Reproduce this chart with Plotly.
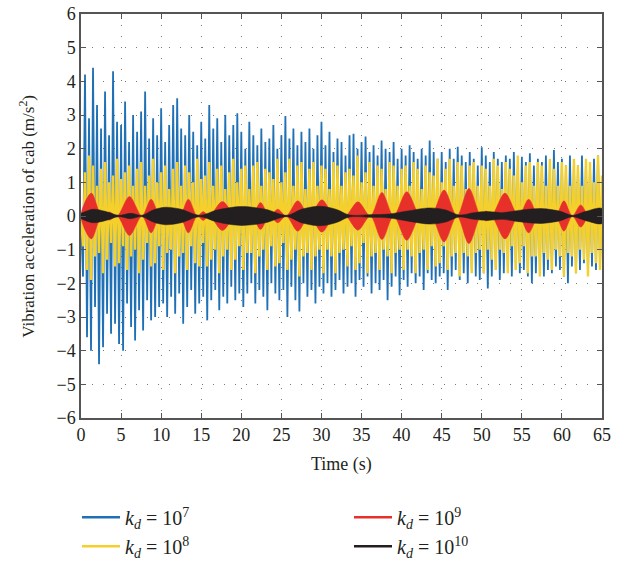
import numpy as np
import plotly.graph_objects as go

# sample interval of the digitised blue / yellow traces (s)
dt = 0.25

# k_d = 1e7 : peak values, one per half cycle
acc_1e7 = [
    0.0, -1.8, 4.2, -3.6, 2.9, -4.0, 4.4, -2.7, 3.3, -4.4, 2.6, -3.9, 3.7, -2.9, 2.4, -3.5, 4.3, -3.2, 2.8, -3.8,
    2.7, -4.0, 3.4, -2.6, 2.2, -3.3, 3.0, -3.7, 2.5, -2.8, 3.1, -3.4, 3.7, -2.5, 2.3, -3.1, 2.9, -3.0, 2.4, -2.7,
    3.2, -2.6, 2.2, -3.0, 2.7, -2.4, 3.3, -2.9, 3.5, -2.3, 2.6, -3.2, 2.4, -2.7, 3.0, -2.2, 2.5, -2.9, 2.1, -2.6,
    2.8, -2.4, 2.3, -3.1, 3.3, -2.5, 2.6, -2.2, 2.9, -2.8, 2.2, -2.4, 3.0, -2.6, 2.4, -2.1, 2.7, -2.5, 3.05, -2.3,
    2.5, -2.7, 2.0, -2.3, 2.8, -2.0, 2.4, -2.6, 2.1, -2.2, 2.6, -2.4, 2.2, -2.8, 2.3, -2.0, 2.7, -2.3, 2.0, -2.5,
    2.4, -2.2, 2.97, -3.0, 2.3, -2.1, 2.6, -2.5, 2.1, -2.84, 2.5, -2.0, 2.2, -2.4, 2.6, -2.2, 2.0, -2.6, 2.4, -2.1,
    2.8, -2.3, 2.1, -2.0, 2.5, -2.4, 1.9, -2.2, 2.3, -1.9, 2.2, -2.3, 1.8, -2.1, 2.4, -2.0, 2.44, -2.4, 2.0, -1.9,
    2.2, -2.1, 2.36, -1.8, 1.9, -2.3, 2.1, -2.0, 1.8, -2.2, 2.24, -1.9, 2.0, -2.5, 1.9, -2.1, 2.2, -1.8, 1.7, -2.35,
    2.0, -1.9, 1.8, -2.1, 2.1, -1.7, 1.9, -2.0, 1.7, -1.8, 2.0, -2.2, 1.8, -1.7, 2.24, -1.9, 1.9, -2.0, 1.7, -1.8,
    1.9, -1.7, 1.6, -2.2, 2.0, -1.8, 1.7, -1.6, 2.06, -1.9, 1.8, -1.7, 1.6, -2.0, 1.9, -1.6, 1.7, -1.8, 1.5, -1.9,
    2.04, -1.7, 1.8, -2.15, 1.6, -1.8, 1.9, -1.6, 1.7, -1.9, 1.6, -1.7, 1.8, -1.5, 1.7, -1.8, 1.9, -1.6, 1.5, -1.7,
    1.76, -1.6, 1.6, -1.8, 1.86, -2.0, 1.5, -1.7, 1.7, -1.5, 1.6, -1.8, 1.8, -1.6, 1.5, -1.7, 1.96, -1.5, 1.6, -1.6,
    1.7, -1.8, 1.5, -2.0, 1.8, -1.5, 1.6, -1.7, 1.5, -1.6, 1.8, -1.4, 1.6, -1.7, 1.5, -1.5, 1.7, -1.6, 1.8, -1.5,
    0.8,
]

# k_d = 1e8
acc_1e8 = [
    0.0, -0.9, 1.3, -1.6, 1.8, -1.9, 1.5, -1.2, 0.9, -1.1, 1.4, -1.7, 1.6, -1.3, 1.0, -0.8, 1.2, -1.5, 1.7, -1.4,
    1.1, -0.9, 1.3, -1.6, 1.5, -1.2, 0.9, -1.0, 1.4, -1.7, 1.6, -1.3, 0.9, -0.8, 1.2, -1.5, 1.7, -1.4, 1.0, -0.9,
    1.3, -1.6, 1.5, -1.1, 0.8, -1.0, 1.4, -1.7, 1.6, -1.2, 0.9, -1.1, 1.5, -1.6, 1.3, -0.9, 1.0, -1.4, 1.7, -1.5,
    1.1, -0.8, 1.2, -1.5, 1.6, -1.3, 0.9, -1.0, 1.4, -1.7, 1.5, -1.2, 0.8, -1.0, 1.3, -1.6, 1.7, -1.3, 1.0, -0.9,
    1.4, -1.6, 1.5, -1.1, 0.8, -1.1, 1.5, -1.7, 1.6, -1.2, 0.9, -1.0, 1.4, -1.6, 1.3, -0.9, 1.1, -1.5, 1.7, -1.4,
    1.0, -0.8, 1.3, -1.6, 1.7, -1.3, 0.9, -1.0, 1.5, -1.8, 1.6, -1.2, 0.8, -1.1, 1.4, -1.6, 1.6, -1.2, 0.9, -1.0,
    1.5, -1.7, 1.4, -1.0, 0.8, -1.2, 1.6, -1.7, 1.5, -1.1, 0.9, -1.0, 1.3, -1.5, 1.4, -0.9, 1.2, -1.6, 1.8, -1.4,
    1.0, -0.8, 1.3, -1.7, 1.6, -1.2, 0.9, -1.1, 1.5, -1.6, 1.4, -1.0, 0.8, -1.2, 1.6, -1.7, 1.5, -1.1, 0.9, -1.0,
    1.4, -1.6, 1.5, -1.0, 0.9, -1.2, 1.6, -1.7, 1.4, -1.1, 0.8, -1.0, 1.5, -1.6, 1.3, -0.9, 1.2, -1.5, 1.7, -1.4,
    1.0, -0.9, 1.4, -1.6, 1.7, -1.2, 0.9, -1.1, 1.6, -1.8, 1.5, -1.1, 0.8, -1.2, 1.5, -1.7, 1.6, -1.1, 0.9, -1.0,
    1.5, -1.7, 1.4, -1.0, 0.9, -1.3, 1.7, -1.6, 1.5, -1.0, 0.8, -1.1, 1.6, -1.7, 1.4, -0.9, 1.2, -1.6, 1.8, -1.4,
    1.0, -0.9, 1.5, -1.7, 1.6, -1.2, 0.9, -1.2, 1.6, -1.8, 1.5, -1.1, 0.9, -1.3, 1.7, -1.6, 1.4, -1.0, 0.9, -1.2,
    1.6, -1.8, 1.5, -1.1, 0.9, -1.2, 1.7, -1.7, 1.5, -1.0, 0.9, -1.3, 1.7, -1.8, 1.6, -1.1, 1.0, -1.4, 1.8, -1.6,
    1.2,
]

# k_d = 1e9 : envelope of the beating response (nodes and lobe peaks)
env_1e9_t = [0.0, 1.3, 2.6, 3.55, 4.5, 6.05, 7.6, 8.75, 9.9, 11.1, 12.3, 13.4, 14.5, 15.25, 16.0, 17.65,
             19.3, 20.3, 21.3, 22.4, 23.5, 24.55, 25.6, 27.05, 28.5, 30.05, 31.6, 32.3, 33.0, 34.55, 36.1,
             37.55, 39.0, 40.65, 42.3, 43.0, 43.7, 45.3, 46.9, 48.4, 49.9, 50.55, 51.2, 52.9, 54.6, 55.85,
             57.1, 58.15, 59.2, 60.25, 61.3, 62.35, 63.4, 64.2, 65.0]
env_1e9 = [0.0, 0.68, 0.0, 0.12, 0.0, 0.58, 0.0, 0.5, 0.0, 0.18, 0.0, 0.5, 0.0, 0.13, 0.0, 0.43,
           0.0, 0.2, 0.0, 0.4, 0.0, 0.2, 0.0, 0.45, 0.0, 0.48, 0.0, 0.15, 0.0, 0.42, 0.0,
           0.7, 0.0, 0.72, 0.0, 0.12, 0.0, 0.77, 0.0, 0.82, 0.0, 0.15, 0.0, 0.68, 0.0, 0.5,
           0.0, 0.15, 0.0, 0.45, 0.0, 0.33, 0.0, 0.15, 0.0]

# k_d = 1e10
env_1e10_t = [0.0, 1.5, 3.0, 4.7, 6.2, 7.6, 9.0, 10.5, 12.5, 14.8, 17.0, 20.0, 23.0, 25.7, 27.5,
              29.8, 31.8, 33.5, 36.0, 38.5, 40.5, 43.5, 45.5, 47.2, 49.0, 50.8, 52.5, 55.0, 57.5,
              59.8, 61.3, 63.0, 65.0]
env_1e10 = [0.08, 0.2, 0.14, 0.02, 0.08, 0.02, 0.18, 0.26, 0.2, 0.02, 0.18, 0.28, 0.2, 0.02, 0.2,
            0.29, 0.2, 0.03, 0.04, 0.06, 0.14, 0.24, 0.18, 0.03, 0.1, 0.13, 0.1, 0.18, 0.22,
            0.14, 0.02, 0.14, 0.22]

names = ['<i>k<sub>d</sub></i> = 10<sup>7</sup>', '<i>k<sub>d</sub></i> = 10<sup>8</sup>',
         '<i>k<sub>d</sub></i> = 10<sup>9</sup>', '<i>k<sub>d</sub></i> = 10<sup>10</sup>']
colors = ['#1f70b5', '#f5cf2a', '#e8302a', '#231f20']
legend_ids = ['legend', 'legend', 'legend2', 'legend2']

FONT = 'Liberation Serif'
TXT = '#231f20'

t = np.arange(len(acc_1e7)) * dt

fig = go.Figure()

# wide band traces
fig.add_trace(go.Scatter(x=t, y=acc_1e7, mode='lines', line=dict(color=colors[0], width=1.8),
                         showlegend=False, hoverinfo='skip'))
fig.add_trace(go.Scatter(x=t, y=acc_1e8, mode='lines', line=dict(color=colors[1], width=2.4),
                         showlegend=False, hoverinfo='skip'))


def envelope_trace(tt, env, color):
    xs = list(tt) + list(tt)[::-1]
    ys = list(env) + [-a for a in env[::-1]]
    return go.Scatter(x=xs, y=ys, mode='lines', fill='toself', fillcolor=color,
                      line=dict(color=color, width=0.5, shape='spline', smoothing=0.9),
                      showlegend=False, hoverinfo='skip')


fig.add_trace(envelope_trace(env_1e9_t, env_1e9, colors[2]))
fig.add_trace(envelope_trace(env_1e10_t, env_1e10, colors[3]))

# legend entries (drawn as plain lines like the original), two columns
for name, c, lg in zip(names, colors, legend_ids):
    fig.add_trace(go.Scatter(x=[None], y=[None], mode='lines', name=name,
                             line=dict(color=c, width=2.5), legend=lg))

axis_style = dict(
    showline=True, linecolor='#555', linewidth=1.5, mirror='ticks',
    ticks='inside', ticklen=5, tickcolor='#555', tickwidth=1.2,
    showgrid=True, gridcolor='#777', gridwidth=1, griddash='1px,10px',
    zeroline=False, automargin=False, ticklabeloverflow='allow',
    tickfont=dict(family=FONT, size=18, color=TXT),
)

fig.update_xaxes(range=[0, 65], dtick=5, tick0=0, **axis_style)
fig.update_yaxes(range=[-6, 6], dtick=1, tick0=0, **axis_style)

# axis titles placed as annotations so they sit where the original has them
fig.add_annotation(text='Time (s)', xref='paper', yref='paper', x=0.5, y=-0.116,
                   xanchor='center', yanchor='middle', showarrow=False,
                   font=dict(family=FONT, size=18, color=TXT))
fig.add_annotation(text='Vibration acceleration of cab (m/s<sup>2</sup>)', xref='paper', yref='paper',
                   x=-0.104, y=0.5, xanchor='center', yanchor='middle', textangle=-90, showarrow=False,
                   font=dict(family=FONT, size=17, color=TXT))

legend_style = dict(orientation='v', xref='container', yref='container', y=0.116,
                    xanchor='left', yanchor='top', tracegroupgap=0, itemwidth=38,
                    font=dict(family=FONT, size=20, color=TXT))

fig.update_layout(
    width=621, height=563,
    margin=dict(l=81, r=19, t=14, b=145, autoexpand=False),
    paper_bgcolor='white', plot_bgcolor='white',
    font=dict(family=FONT, color=TXT),
    legend=dict(x=0.124, **legend_style),
    legend2=dict(x=0.562, **legend_style),
)

# drop the default 8px page margin so the figure starts at the window corner
fig.write_html('out.html', config={'displayModeBar': False},
               post_script="document.body.style.margin='0px';")
